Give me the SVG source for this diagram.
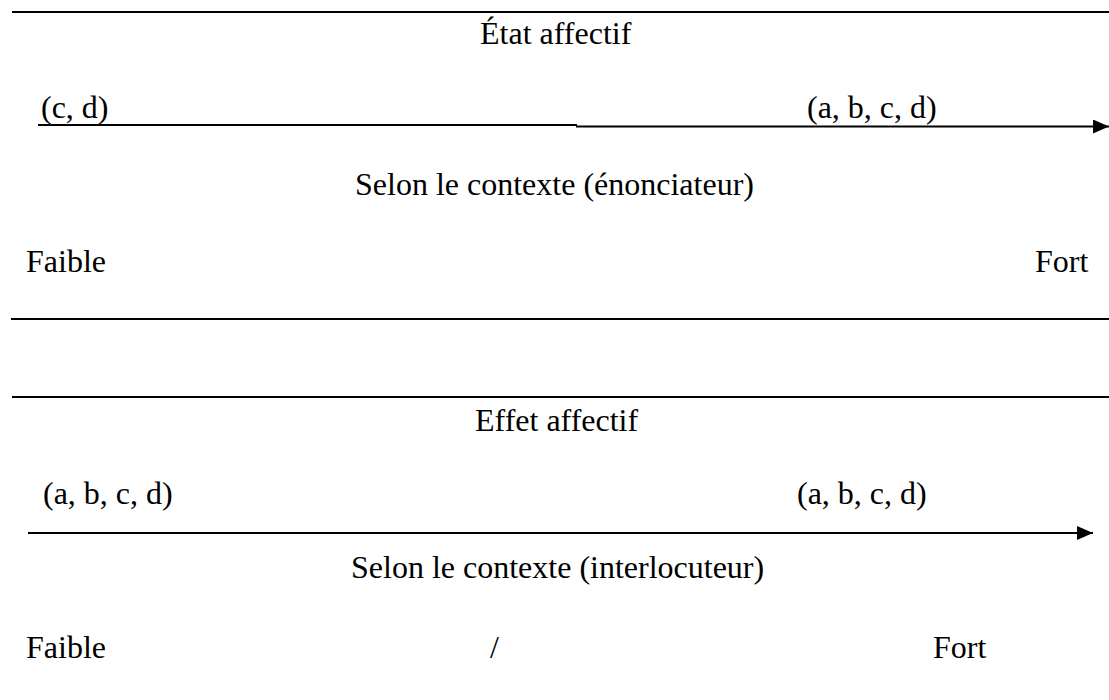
<svg xmlns="http://www.w3.org/2000/svg" width="1109" height="700" viewBox="0 0 1109 700">
<style>
  text { font-family: "Liberation Serif", "Times New Roman", serif; font-size: 32px; fill: #000; }
  .rule { stroke: #000; stroke-width: 2; fill: none; }
  .axis { stroke: #000; stroke-width: 2; fill: none; }
</style>
<defs>
  <marker id="arrow" markerUnits="userSpaceOnUse" markerWidth="16" markerHeight="14" refX="16" refY="7" orient="auto">
    <path d="M0,0 L16,7 L0,14 Z" fill="#000"/>
  </marker>
</defs>
<rect width="1109" height="700" fill="#fff"/>
<g id="connectors">
  <line class="rule" x1="12" y1="12" x2="1109" y2="12"/>
  <line class="rule" x1="11" y1="319" x2="1109" y2="319"/>
  <line class="rule" x1="12" y1="397" x2="1109" y2="397"/>
  <line class="axis" x1="38" y1="125" x2="577" y2="125"/>
  <line class="axis" x1="576" y1="126.5" x2="1109" y2="126.5" marker-end="url(#arrow)"/>
  <line class="axis" x1="28" y1="533" x2="1093" y2="533" marker-end="url(#arrow)"/>
</g>
<g id="etat">
  <text x="480" y="44">État affectif</text>
  <text x="41" y="118">(c, d)</text>
  <text x="807" y="118">(a, b, c, d)</text>
  <text x="355" y="195">Selon le contexte (énonciateur)</text>
  <text x="26" y="272">Faible</text>
  <text x="1035" y="272">Fort</text>
</g>
<g id="effet">
  <text x="475" y="431">Effet affectif</text>
  <text x="43" y="504">(a, b, c, d)</text>
  <text x="797" y="504">(a, b, c, d)</text>
  <text x="351" y="578">Selon le contexte (interlocuteur)</text>
  <text x="26" y="658">Faible</text>
  <text x="490" y="658">/</text>
  <text x="933" y="658">Fort</text>
</g>
</svg>
